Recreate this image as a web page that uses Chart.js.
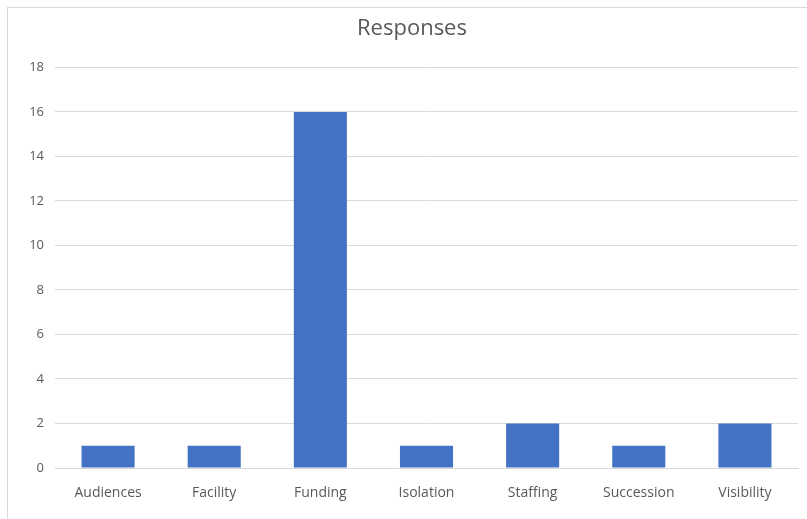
<!DOCTYPE html>
<html>
<head>
<meta charset="utf-8">
<script src="https://cdn.jsdelivr.net/npm/chart.js@4/dist/chart.umd.min.js"></script>
<style>
	html, body { margin: 0; padding: 0; background: #fff; }
	#wrap { position: relative; width: 807px; height: 519px; }
</style>
</head>
<body>
<div id="wrap"><canvas id="responsesChart" width="807" height="519"></canvas></div>
<script>
var categories = ['Audiences', 'Facility', 'Funding', 'Isolation', 'Staffing', 'Succession', 'Visibility'];
var responses = [1, 1, 16, 1, 2, 1, 2];
var yTicks = [0, 2, 4, 6, 8, 10, 12, 14, 16, 18];

// Light frame around the chart, like the spreadsheet chart box.
var frame = {
	id: 'frame',
	beforeDraw: function(chart) {
		var ctx = chart.ctx;
		ctx.save();
		ctx.strokeStyle = '#d9d9d9';
		ctx.lineWidth = 1;
		ctx.strokeRect(7.5, 7.5, chart.width + 10, chart.height + 10);
		ctx.restore();
	}
};

new Chart(document.getElementById('responsesChart'), {
	type: 'bar',
	data: {
		labels: categories,
		datasets: [{
			label: 'Responses',
			data: responses,
			backgroundColor: '#4472c4',
			borderWidth: 0,
			barPercentage: 0.5,
			categoryPercentage: 1
		}]
	},
	plugins: [frame],
	options: {
		responsive: false,
		animation: false,
		layout: { padding: { left: 26, right: 9, top: 0, bottom: 0 } },
		font: { family: '"Open Sans", sans-serif' },
		plugins: {
			legend: { display: false },
			tooltip: { enabled: false },
			title: {
				display: true,
				text: 'Responses',
				color: '#595959',
				font: { family: '"Open Sans", sans-serif', size: 22, weight: 'normal' },
				padding: { top: 16, bottom: 25 }
			}
		},
		scales: {
			y: {
				min: 0,
				max: 18,
				afterBuildTicks: function(axis) {
					axis.ticks = yTicks.map(function(v) { return { value: v }; });
				},
				afterFit: function(axis) { axis.width = 29; },
				border: { display: false },
				grid: { color: '#d9d9d9', lineWidth: 1, drawTicks: false },
				ticks: {
					color: '#595959',
					padding: 11,
					font: { family: '"Open Sans", sans-serif', size: 13 }
				}
			},
			x: {
				afterFit: function(axis) { axis.height = 51; },
				border: { color: '#d9d9d9' },
				grid: { display: false, drawTicks: false },
				ticks: {
					color: '#595959',
					padding: 17,
					maxRotation: 0,
					font: { family: '"Open Sans", sans-serif', size: 14 }
				}
			}
		}
	}
});
</script>
</body>
</html>
